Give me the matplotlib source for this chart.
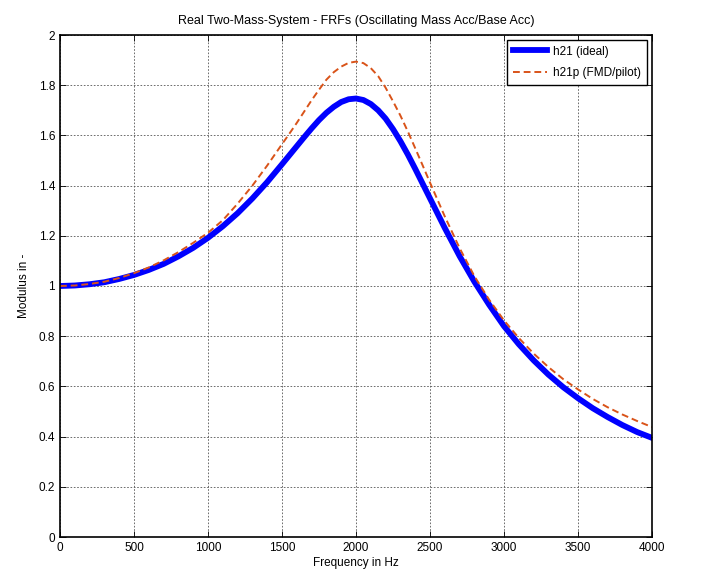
import matplotlib
matplotlib.use('Agg')
import matplotlib.pyplot as plt
import numpy as np

# frequency grid in Hz (finer around the resonance)
freq = [0, 100, 200, 300, 400, 500, 600, 700, 800, 900, 1000,
        1100, 1200, 1300, 1400, 1500, 1550, 1600, 1650, 1700, 1750,
        1800, 1850, 1900, 1950, 2000, 2050, 2100, 2150, 2200, 2250,
        2300, 2350, 2400, 2450, 2500, 2600, 2700, 2800, 2900, 3000,
        3100, 3200, 3300, 3400, 3500, 3600, 3700, 3800, 3900, 4000]

# h21 (ideal)
h21 = [1.000, 1.002, 1.007, 1.015, 1.028, 1.044, 1.064, 1.088, 1.118, 1.152, 1.192,
       1.238, 1.290, 1.349, 1.414, 1.485, 1.521, 1.557, 1.593, 1.628, 1.661,
       1.690, 1.714, 1.733, 1.744, 1.747, 1.741, 1.725, 1.700, 1.667, 1.625,
       1.577, 1.524, 1.467, 1.408, 1.349, 1.231, 1.119, 1.017, 0.925, 0.840,
       0.768, 0.704, 0.647, 0.597, 0.553, 0.513, 0.478, 0.446, 0.418, 0.395]

# h21p (FMD/pilot)
h21p = [1.000, 1.002, 1.008, 1.017, 1.032, 1.051, 1.074, 1.102, 1.135, 1.172, 1.212,
        1.262, 1.328, 1.400, 1.480, 1.565, 1.607, 1.650, 1.695, 1.740, 1.782,
        1.822, 1.852, 1.874, 1.889, 1.894, 1.888, 1.868, 1.836, 1.790, 1.736,
        1.679, 1.616, 1.549, 1.481, 1.412, 1.277, 1.151, 1.039, 0.945, 0.863,
        0.793, 0.731, 0.677, 0.629, 0.588, 0.550, 0.517, 0.488, 0.462, 0.438]

plt.rcParams['font.family'] = ['Liberation Sans', 'DejaVu Sans']

fig = plt.figure(figsize=(7.1, 5.75), dpi=100)
ax = fig.add_axes([60 / 710, 38 / 575, 592 / 710, 502 / 575])

ax.plot(freq, h21, color='#0000FF', linewidth=4.2, label='h21 (ideal)')
ax.plot(freq, h21p, color='#D95319', linewidth=1.4, linestyle=(0, (3.5, 2)),
        label='h21p (FMD/pilot)')

ax.set_xlim(0, 4000)
ax.set_ylim(0, 2)
ax.set_xticks(np.arange(0, 4001, 500))
ax.set_yticks(np.arange(0, 2.01, 0.2))
ax.set_yticklabels(['0', '0.2', '0.4', '0.6', '0.8', '1', '1.2', '1.4',
                    '1.6', '1.8', '2'])
ax.grid(True, color='#555555', linestyle=(0, (2, 2)), linewidth=0.6)
ax.tick_params(direction='in', top=True, right=True, labelsize=8.5,
               length=4, width=0.6)
for sp in ax.spines.values():
    sp.set_linewidth(1.2)

ax.set_xlabel('Frequency in Hz', fontsize=8.5, labelpad=2)
ax.set_ylabel('Modulus in -', fontsize=8.5, labelpad=6)
ax.set_title('Real Two-Mass-System - FRFs (Oscillating Mass Acc/Base Acc)',
             fontsize=9, pad=8)

leg = ax.legend(loc='upper right', fontsize=8.5, fancybox=False,
                framealpha=1, edgecolor='black', borderaxespad=0.4,
                handlelength=2.9, borderpad=0.5, labelspacing=0.8,
                handletextpad=0.5)
leg.get_frame().set_linewidth(1.0)

fig.savefig('out.png', dpi=100, facecolor='white')
